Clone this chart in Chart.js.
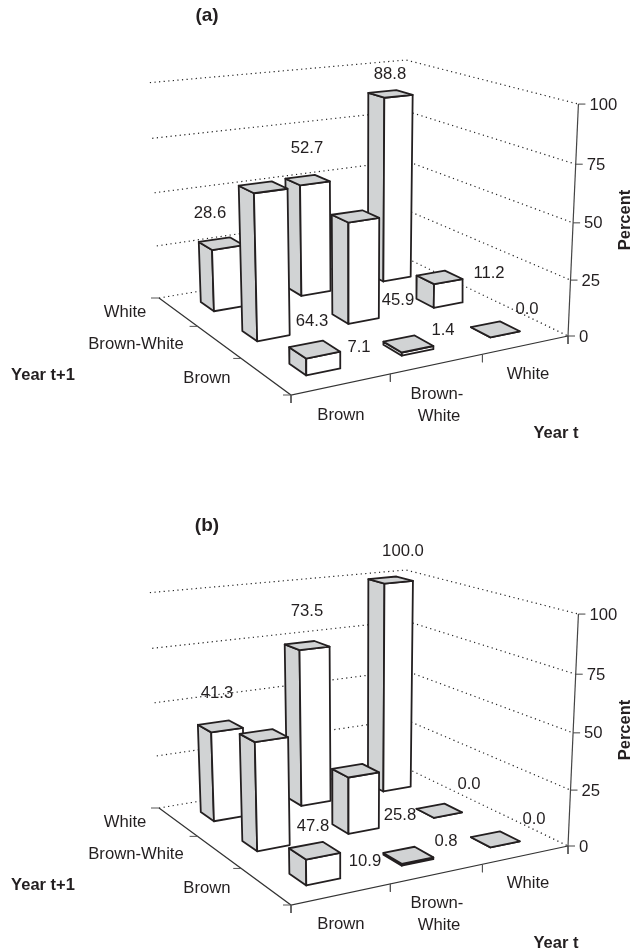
<!DOCTYPE html>
<html>
<head>
<meta charset="utf-8">
<title>Year t / Year t+1</title>
<script src="https://cdn.jsdelivr.net/npm/chart.js@4/dist/chart.umd.min.js"></script>
<style>
  html, body { margin: 0; padding: 0; background: #fff; }
  canvas { position: absolute; left: 0; }
</style>
</head>
<body>
<canvas id="chartA" width="633" height="510" style="top:0"></canvas>
<canvas id="chartB" width="633" height="439" style="top:510px"></canvas>
<script>
var categoriesYearT = ['Brown', 'Brown-White', 'White'];
var categoriesYearT1 = ['Brown', 'Brown-White', 'White'];
var percentTicks = [0, 25, 50, 75, 100];

// one list per Year t+1 row, values run along Year t
var a_brown = [7.1, 1.4, 0.0];
var a_brownWhite = [64.3, 45.9, 11.2];
var a_white = [28.6, 52.7, 88.8];

var b_brown = [10.9, 0.8, 0.0];
var b_brownWhite = [47.8, 25.8, 0.0];
var b_white = [41.3, 73.5, 100.0];

// where the value labels sit, same row/column order as the values
var a_labelSpots = [
    [[359, 347], [443, 330], [527, 309]],
    [[312, 321], [398, 300], [489, 273]],
    [[210, 213], [307, 148], [390, 74]]
];
var b_labelSpots = [
    [[365, 351], [446, 331], [534, 309]],
    [[313, 316], [400, 305], [469, 274]],
    [[217, 183], [307, 101], [403, 41]]
];

var INK = '#231f20';
var GREY = '#d1d3d4';
var HALF_BAR_U = 0.058;
var HALF_BAR_V = 0.055;

// camera fitted to the floor corners and the 100 level
function project(u, v, pct) {
    var z = pct / 100;
    var w = 0.1188 * u + 0.2101 * v - 0.053 * z + 1;
    return {
        x: (344.48 * u - 98.59 * v - 19 * z + 291) / w,
        y: (-19.08 * u - 34.39 * v - 265 * z + 395) / w
    };
}

function lineSet(points, color, width, dash) {
    return {
        data: points,
        showLine: true,
        pointRadius: 0,
        tension: 0,
        fill: false,
        clip: false,
        borderColor: color,
        borderWidth: width,
        borderDash: dash || []
    };
}

function faceSet(points, fillColor) {
    var closed = points.concat([points[0], points[1]]);
    var ds = lineSet(closed, INK, 1.8);
    ds.fill = 'shape';
    ds.backgroundColor = fillColor;
    ds.borderJoinStyle = 'round';
    return ds;
}

function barSets(col, row, value) {
    var cu = (col + 0.5) / 3, cv = (row + 0.5) / 3;
    var u0 = cu - HALF_BAR_U, u1 = cu + HALF_BAR_U, v0 = cv - HALF_BAR_V, v1 = cv + HALF_BAR_V;
    return [
        faceSet([project(u0, v1, 0), project(u0, v0, 0), project(u0, v0, value), project(u0, v1, value)], GREY),
        faceSet([project(u0, v0, 0), project(u1, v0, 0), project(u1, v0, value), project(u0, v0, value)], '#ffffff'),
        faceSet([project(u0, v0, value), project(u1, v0, value), project(u1, v1, value), project(u0, v1, value)], GREY)
    ];
}

function offset(p, dx, dy) {
    return { x: p.x + dx, y: p.y + dy };
}

function buildDatasets(rows) {
    var sets = [];
    // dotted walls first
    percentTicks.forEach(function (t) {
        sets.push(lineSet([project(0, 1, t), project(1, 1, t), project(1, 0, t)], '#222222', 1.2, [1.2, 3.4]));
    });
    // floor edges and their ticks
    sets.push(lineSet([project(0, 1, 0), project(0, 0, 0), project(1, 0, 0)], '#333333', 1.2));
    [0, 1, 2, 3].forEach(function (i) {
        var onLeft = project(0, i / 3, 0), onRight = project(i / 3, 0, 0);
        sets.push(lineSet([onLeft, offset(onLeft, -8, 0)], '#555555', 1));
        sets.push(lineSet([onRight, offset(onRight, 0, 8)], '#555555', 1));
    });
    // percent axis
    sets.push(lineSet([project(1, 0, 0), project(1, 0, 100)], '#444444', 1.2));
    percentTicks.forEach(function (t) {
        var p = project(1, 0, t);
        sets.push(lineSet([offset(p, t === 0 ? -1 : 0, 0), offset(p, 7, 0)], '#444444', 1));
    });
    // bars, back row first so nearer ones paint over
    for (var row = rows.length - 1; row >= 0; row--) {
        for (var col = rows[row].length - 1; col >= 0; col--) {
            sets = sets.concat(barSets(col, row, rows[row][col]));
        }
    }
    // chart.js paints the first dataset last
    return sets.reverse();
}

var textPlugin = {
    id: 'panelText',
    afterDatasetsDraw: function (chart, args, opts) {
        var ctx = chart.ctx;
        var put = function (text, x, y, font) {
            ctx.font = (font || '16.7px') + ' "Liberation Sans", Arial, sans-serif';
            ctx.fillText(text, x, y);
        };
        var BOLD = 'bold 16.5px';
        ctx.save();
        ctx.fillStyle = INK;
        ctx.textBaseline = 'middle';
        ctx.textAlign = 'center';

        put(opts.title, 207, 16, 'bold 19px');
        opts.rows.forEach(function (vals, r) {
            vals.forEach(function (v, c) {
                put(v.toFixed(1), opts.spots[r][c][0], opts.spots[r][c][1]);
            });
        });

        // Year t labels
        put(categoriesYearT[0], 341, opts.lowY);
        put('Brown-', 437, opts.lowY - 21);
        put('White', 439, opts.lowY + 1);
        put(categoriesYearT[2], 528, opts.lowY - 41);
        put('Year t', 556, 433, BOLD);

        // Year t+1 labels
        put(categoriesYearT1[2], 125, 312);
        put(categoriesYearT1[1], 136, 344);
        put(categoriesYearT1[0], 207, 378);
        put('Year t+1', 43, 375, BOLD);

        // percent tick labels
        ctx.textAlign = 'left';
        percentTicks.forEach(function (t) {
            var p = project(1, 0, t);
            put(String(t), p.x + 11, p.y + 1);
        });

        ctx.translate(625, 220);
        ctx.rotate(-Math.PI / 2);
        ctx.textAlign = 'center';
        put('Percent', 0, 0, BOLD);
        ctx.restore();
    }
};

function makeChart(id, title, rows, spots, lowY) {
    var canvas = document.getElementById(id);
    return new Chart(canvas.getContext('2d'), {
        type: 'scatter',
        data: { datasets: buildDatasets(rows) },
        plugins: [textPlugin],
        options: {
            responsive: false,
            animation: false,
            layout: { padding: 0 },
            scales: {
                x: { type: 'linear', min: 0, max: canvas.width, display: false },
                y: { type: 'linear', min: 0, max: canvas.height, reverse: true, display: false }
            },
            plugins: {
                legend: { display: false },
                tooltip: { enabled: false },
                panelText: { title: title, rows: rows, spots: spots, lowY: lowY }
            }
        }
    });
}

makeChart('chartA', '(a)', [a_brown, a_brownWhite, a_white], a_labelSpots, 415);
makeChart('chartB', '(b)', [b_brown, b_brownWhite, b_white], b_labelSpots, 414);
</script>
</body>
</html>
